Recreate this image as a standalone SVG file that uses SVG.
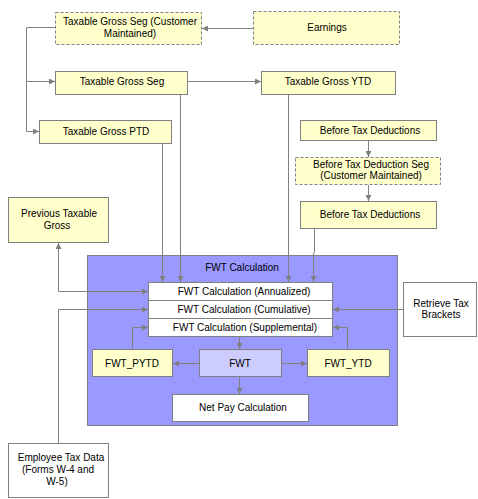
<svg xmlns="http://www.w3.org/2000/svg" width="478" height="499" viewBox="0 0 478 499">
<defs>
<marker id="ah" markerWidth="7" markerHeight="6" refX="6" refY="3" orient="auto" markerUnits="userSpaceOnUse">
<path d="M0,0 L6,3 L0,6 Z" fill="#808080"/>
</marker>
<marker id="as" markerWidth="7" markerHeight="6" refX="0" refY="3" orient="auto" markerUnits="userSpaceOnUse">
<path d="M6,0 L0,3 L6,6 Z" fill="#808080"/>
</marker>
<style>
.y{fill:#ffffcc;stroke:#808080;stroke-width:1}
.d{fill:#ffffcc;stroke:#808080;stroke-width:1;stroke-dasharray:3,2}
.w{fill:#ffffff;stroke:#808080;stroke-width:1}
.c{fill:#9999ff;stroke:#808080;stroke-width:1}
.l{fill:#ccccff;stroke:#808080;stroke-width:1}
text{font-family:"Liberation Sans",Arial,sans-serif;font-size:10px;fill:#000;text-anchor:middle}
.cn path{fill:none;stroke:#808080;stroke-width:1;marker-end:url(#ah)}
</style>
</defs>
<rect width="478" height="499" fill="#ffffff"/>

<g id="fwt-calculation-container">
<rect class="c" x="87.5" y="255.5" width="310" height="170"/>
<text x="242" y="271">FWT Calculation</text>
</g>

<g id="tgs-cm">
<rect class="d" x="55.5" y="12.5" width="146" height="32"/>
<text x="130" y="25">Taxable Gross Seg (Customer</text>
<text x="130" y="37">Maintained)</text>
</g>
<g id="earnings">
<rect class="d" x="253.5" y="11.5" width="146" height="33"/>
<text x="327" y="31">Earnings</text>
</g>
<g id="tgs">
<rect class="y" x="55.5" y="71.5" width="132" height="23"/>
<text x="122" y="85">Taxable Gross Seg</text>
</g>
<g id="tg-ytd">
<rect class="y" x="261.5" y="71.5" width="134" height="23"/>
<text x="328" y="85">Taxable Gross YTD</text>
</g>
<g id="tg-ptd">
<rect class="y" x="39.5" y="120.5" width="132" height="23"/>
<text x="106" y="135">Taxable Gross PTD</text>
</g>
<g id="btd1">
<rect class="y" x="300.5" y="120.5" width="136" height="20"/>
<text x="370" y="134">Before Tax Deductions</text>
</g>
<g id="btds-cm">
<rect class="d" x="295.5" y="157.5" width="145" height="27"/>
<text x="371" y="168">Before Tax Deduction Seg</text>
<text x="371" y="179">(Customer Maintained)</text>
</g>
<g id="btd2">
<rect class="y" x="300.5" y="201.5" width="136" height="27"/>
<text x="370" y="218">Before Tax Deductions</text>
</g>
<g id="prev-taxable-gross">
<rect class="y" x="8.5" y="197.5" width="100" height="45"/>
<text x="59" y="217">Previous Taxable</text>
<text x="57" y="229">Gross</text>
</g>
<g id="fwt-annualized">
<rect class="w" x="148.5" y="282.5" width="184" height="18"/>
<text x="244" y="295">FWT Calculation (Annualized)</text>
</g>
<g id="fwt-cumulative">
<rect class="w" x="148.5" y="300.5" width="184" height="18"/>
<text x="244" y="313">FWT Calculation (Cumulative)</text>
</g>
<g id="fwt-supplemental">
<rect class="w" x="148.5" y="318.5" width="184" height="18"/>
<text x="245" y="331">FWT Calculation (Supplemental)</text>
</g>
<g id="retrieve-tax-brackets">
<rect class="w" x="403.5" y="282.5" width="73" height="54"/>
<text x="441" y="307">Retrieve Tax</text>
<text x="441" y="318">Brackets</text>
</g>
<g id="fwt-pytd">
<rect class="y" x="92.5" y="349.5" width="80" height="27"/>
<text x="132" y="367">FWT_PYTD</text>
</g>
<g id="fwt">
<rect class="l" x="199.5" y="349.5" width="82" height="27"/>
<text x="240" y="367">FWT</text>
</g>
<g id="fwt-ytd">
<rect class="y" x="307.5" y="349.5" width="82" height="27"/>
<text x="348" y="367">FWT_YTD</text>
</g>
<g id="net-pay">
<rect class="w" x="172.5" y="394.5" width="136" height="27"/>
<text x="243" y="411">Net Pay Calculation</text>
</g>
<g id="employee-tax-data">
<rect class="w" x="8.5" y="443.5" width="100" height="54"/>
<text x="61" y="461">Employee Tax Data</text>
<text x="58" y="473">(Forms W-4 and</text>
<text x="57" y="485">W-5)</text>
</g>

<g id="connectors" class="cn">
<path d="M253,28.5 H202"/>
<path d="M55,27.5 H26.5 V81.5 H55"/>
<path d="M26.5,81.5 V131.5 H39"/>
<path d="M188,81.5 H261"/>
<path d="M180.5,95 V282"/>
<path d="M162.5,144 V282"/>
<path d="M288.5,95 V282"/>
<path d="M368.5,141 V157"/>
<path d="M368.5,185 V201"/>
<path d="M314.5,229 V252 L313.5,254 V282"/>
<path d="M58.5,243 V291.5 H148" style="marker-start:url(#as)"/>
<path d="M58.5,443 V309.5 H148"/>
<path d="M403,309.5 H333"/>
<path d="M239.5,337 V349"/>
<path d="M199,363.5 H173"/>
<path d="M282,363.5 H307"/>
<path d="M132.5,349 V327.5 H148"/>
<path d="M347.5,349 V327.5 H333"/>
<path d="M239.5,377 V394"/>
</g>
</svg>
